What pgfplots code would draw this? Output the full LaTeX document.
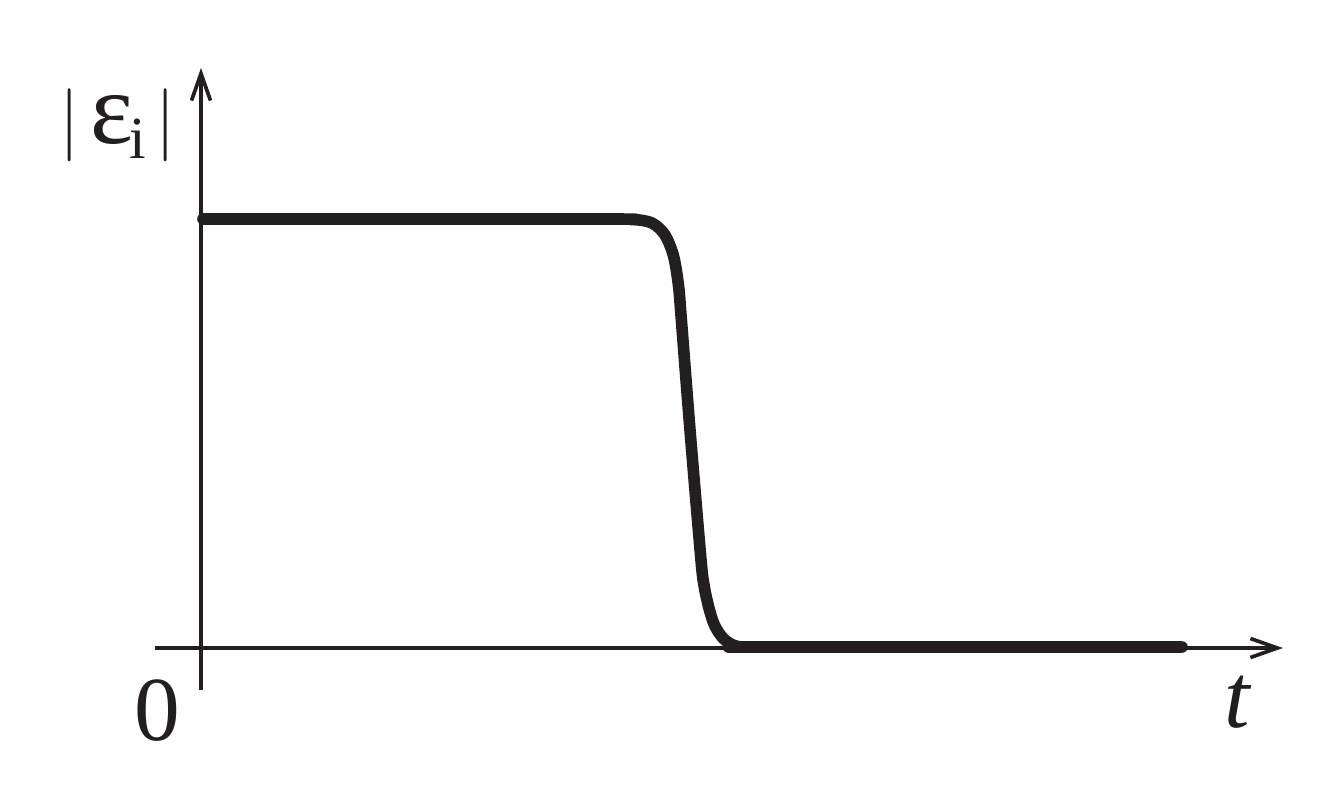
\documentclass[border=0pt]{standalone}
\usepackage{pgfplots}
\pgfplotsset{compat=1.18}
\usepackage{fontspec}
\setmainfont{Liberation Serif}
\usetikzlibrary{arrows.meta}
\definecolor{ink}{HTML}{231F20}
\begin{document}
\begin{tikzpicture}
\begin{axis}[
  x=0.01cm, y=0.01cm,
  xmin=-46, xmax=1082, ymin=-42, ymax=580,
  enlargelimits=false,
  axis lines=middle,
  axis line style={ink, line width=1.05pt,
    -{Straight Barb[length=2.7mm,width=1.9mm,line width=1.05pt]}},
  xtick=\empty, ytick=\empty,
  clip=false,
]
% curve, x = pixel - 201, y = 648 - pixel
\addplot[ink, line width=3.3pt, line cap=round, line join=round, smooth, tension=0.5]
  coordinates {
  (2,429) (400,429) (430,428.5) (442,427.5) (451,425) (458,420) (464,413) (468,405)
  (472,394) (475,380) (478,358) (480,333) (489,218) (500,88)
  (503,63) (506,48) (509,36) (513,24) (518,15) (524,8) (532,3)
  (541,1) (559,1) (981,1)
  };
\coordinate (bl) at (axis cs:-201,-136);
\coordinate (tr) at (axis cs:1129,648);
\node[anchor=base, ink, font=\fontsize{26}{30}\selectfont] at (axis cs:-44,-92) {0};
\node[anchor=base, ink, font=\fontsize{26}{30}\selectfont] at (axis cs:1037,-79) {\textit{t}};
% label |eps_i|
\node[anchor=base, ink, inner sep=0pt, font=\fontsize{20}{24}\selectfont] at (axis cs:-131,505) {$|$};
\node[anchor=base, ink, inner sep=0pt, font=\fontsize{29}{32}\selectfont] at (axis cs:-89,505) {ε};
\node[anchor=base, ink, inner sep=0pt, font=\fontsize{17}{20}\selectfont] at (axis cs:-63,490) {i};
\node[anchor=base, ink, inner sep=0pt, font=\fontsize{20}{24}\selectfont] at (axis cs:-35,505) {$|$};
\end{axis}
\pgfresetboundingbox
\path (bl) rectangle (tr);
\end{tikzpicture}
\end{document}
